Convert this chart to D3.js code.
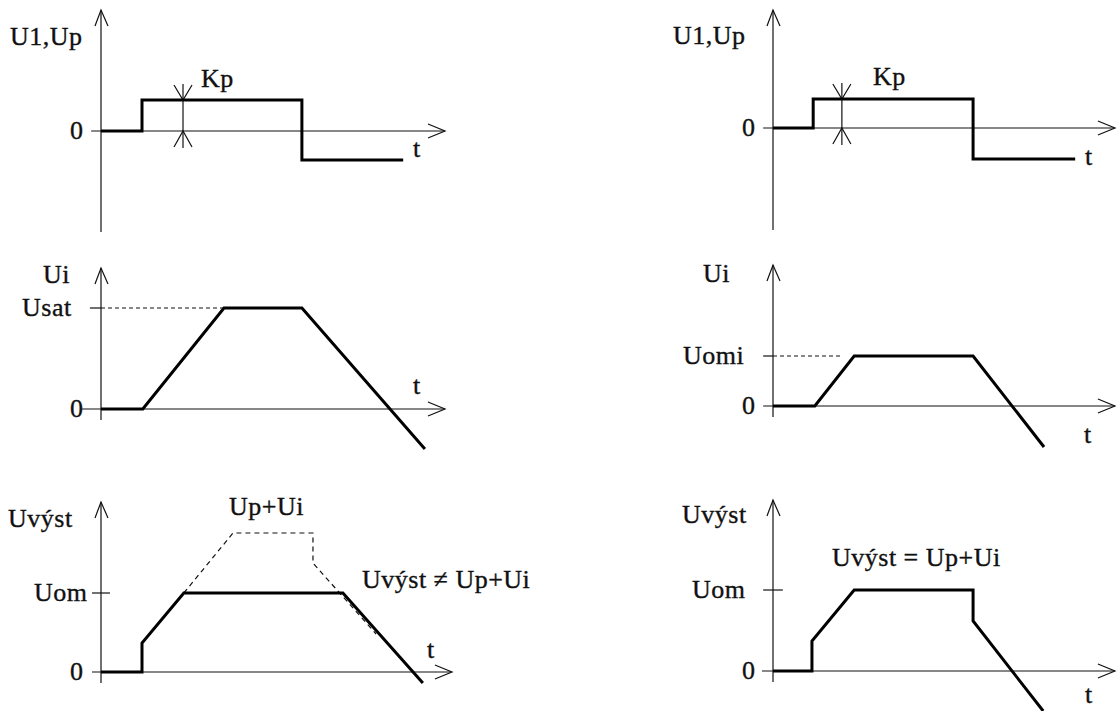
<!DOCTYPE html>
<html>
<head>
<meta charset="utf-8">
<script src="https://cdn.jsdelivr.net/npm/d3@7"></script>
<style>
  body { margin: 0; background: #fff; }
  text { font-family: "Liberation Serif", serif; font-size: 26px; fill: #111; stroke: #111; stroke-width: 0.35px; letter-spacing: 0.5px; }
</style>
</head>
<body>
<div id="chart"></div>
<script>
// ---- data (time in units, value in units) ----
// top row: proportional part Up (step of height Kp)
const upTimeL = [0, 1, 1, 4.9, 4.9, 7.37];
const upValL  = [0, 0, 3.1, 3.1, -2.9, -2.9];
const upTimeR = [0, 0.98, 0.98, 4.88, 4.88, 7.37];
const upValR  = [0, 0, 2.9, 2.9, -3.1, -3.1];
const kpAtL = 2.0, kpAtR = 1.68;

// middle row: integral part Ui
const uiTimeL = [0, 1.02, 3.0, 4.9, 7.9];
const uiValL  = [0, 0, 10.1, 10.1, -4.0];
const uiTimeR = [0, 1.02, 1.98, 4.88, 6.61];
const uiValR  = [0, 0, 5.0, 5.0, -4.1];
const usatLevel = 10.1, uomiLevel = 5.0;

// bottom row: output Uvyst
const outTimeL = [0, 1, 1, 2.02, 5.9, 7.85];
const outValL  = [0, 0, 2.9, 7.9, 7.9, -1.1];
const sumTimeL = [2.02, 3.22, 5.17, 5.17, 6.71];   // dashed Up+Ui
const sumValL  = [7.9, 13.9, 13.9, 10.9, 3.8];
const outTimeR = [0, 0.95, 0.95, 1.98, 4.88, 4.88, 6.59];
const outValR  = [0, 0, 3.0, 8.1, 8.1, 5.0, -4.0];
const uomLevelL = 7.9, uomLevelR = 8.1;

const UX = 41, UY = 10;

var svg = d3.select('#chart').append('svg')
    .attr('width', 1120)
    .attr('height', 711);

function panel(p) {
    var x = d3.scaleLinear().domain(p.tDom).range(p.tDom.map(d => p.ox + d * UX));
    var y = d3.scaleLinear().domain(p.vDom).range(p.vDom.map(d => p.oy - d * UY));
    var g = svg.append('g');
    var line = d3.line().x(d => x(d[0])).y(d => y(d[1]));

    // axes
    var ax = g.append('g').attr('stroke', '#111').attr('stroke-width', 1.2).attr('fill', 'none');
    ax.append('path').attr('d', line([[p.tDom[0], 0], [p.tDom[1], 0]]));
    ax.append('path').attr('d', d3.line()([[x(0), y(p.vDom[0])], [x(0), y(p.vDom[1])]]));
    var tx = x(p.tDom[1]), ty = y(0);
    ax.append('path').attr('d', `M${tx - 17},${ty - 7}L${tx},${ty}L${tx - 17},${ty + 7}`);
    var vx = x(0), vy = y(p.vDom[1]);
    ax.append('path').attr('d', `M${vx - 6},${vy + 16}L${vx},${vy}L${vx + 7},${vy + 16}`);

    // level tick + dashed helper
    if (p.level !== undefined) {
        ax.append('path').attr('d', line([[p.tick[0], p.level], [p.tick[1], p.level]]));
        if (p.levelDash)
            ax.append('path').attr('stroke-dasharray', '4,3').attr('d', line([[0, p.level], [p.levelDash, p.level]]));
    }

    // dashed Up+Ui
    if (p.dashT) {
        g.append('path').attr('fill', 'none').attr('stroke', '#111').attr('stroke-width', 1.2)
            .attr('stroke-dasharray', '5,4')
            .attr('d', line(d3.zip(p.dashT, p.dashV)));
    }

    // Kp marker
    if (p.kpAt !== undefined) {
        var kx = x(p.kpAt), k0 = y(0), k1 = y(p.kp);
        var km = g.append('g').attr('stroke', '#111').attr('stroke-width', 1.2).attr('fill', 'none');
        km.append('path').attr('d', d3.line()([[kx, k1 - 16], [kx, k0 + 17]]));
        km.append('path').attr('d', `M${kx - 9},${k1 - 15}L${kx},${k1}L${kx + 9},${k1 - 15}`);
        km.append('path').attr('d', `M${kx - 9},${k0 + 16}L${kx},${k0}L${kx + 9},${k0 + 16}`);
    }

    // signal
    g.append('path').attr('fill', 'none').attr('stroke', '#000').attr('stroke-width', 3)
        .attr('stroke-linejoin', 'miter')
        .attr('d', line(d3.zip(p.t, p.v)));

    // texts
    g.selectAll('text.lab').data(p.labels).join('text')
        .attr('x', d => d[1]).attr('y', d => d[2])
        .text(d => d[0]);
    g.append('text').attr('x', x(0) - 31).attr('y', y(0) + 8).text('0');
    if (p.levelLabel)
        g.append('text').attr('x', p.levelLabel[1]).attr('y', y(p.level) + 8).text(p.levelLabel[0]);
}

panel({ ox: 101, oy: 131, tDom: [-0.24, 8.39], vDom: [-10.1, 12.1],
        t: upTimeL, v: upValL, kpAt: kpAtL, kp: upValL[2],
        labels: [['U1,Up', 10, 45], ['Kp', 201, 87], ['t', 413, 157]] });
panel({ ox: 773, oy: 128, tDom: [-0.24, 8.34], vDom: [-10.2, 11.8],
        t: upTimeR, v: upValR, kpAt: kpAtR, kp: upValR[2],
        labels: [['U1,Up', 673, 44], ['Kp', 873, 85], ['t', 1085, 165]] });

panel({ ox: 101, oy: 409, tDom: [-0.46, 8.39], vDom: [-1.1, 14.1],
        t: uiTimeL, v: uiValL, level: usatLevel, tick: [-0.27, 0], levelDash: uiTimeL[2],
        levelLabel: ['Usat', 22],
        labels: [['Ui', 43, 283], ['t', 413, 394]] });
panel({ ox: 773, oy: 406, tDom: [-0.24, 8.34], vDom: [-1.1, 14.1],
        t: uiTimeR, v: uiValR, level: uomiLevel, tick: [-0.24, 0], levelDash: 1.68,
        levelLabel: ['Uomi', 683],
        labels: [['Ui', 703, 282], ['t', 1084, 443]] });

panel({ ox: 101, oy: 672, tDom: [-0.22, 8.56], vDom: [-1.1, 17.0],
        t: outTimeL, v: outValL, level: uomLevelL, tick: [-0.22, 0.22],
        dashT: sumTimeL, dashV: sumValL, levelLabel: ['Uom', 34],
        labels: [['Uvýst', 8, 527], ['Up+Ui', 229, 515], ['Uvýst ≠ Up+Ui', 362, 588], ['t', 427, 658]] });
panel({ ox: 773, oy: 671, tDom: [-0.27, 8.34], vDom: [-1.1, 17.1],
        t: outTimeR, v: outValR, level: uomLevelR, tick: [-0.24, 0.24],
        levelLabel: ['Uom', 692],
        labels: [['Uvýst', 682, 523], ['Uvýst = Up+Ui', 832, 566], ['t', 1085, 703]] });
</script>
</body>
</html>
